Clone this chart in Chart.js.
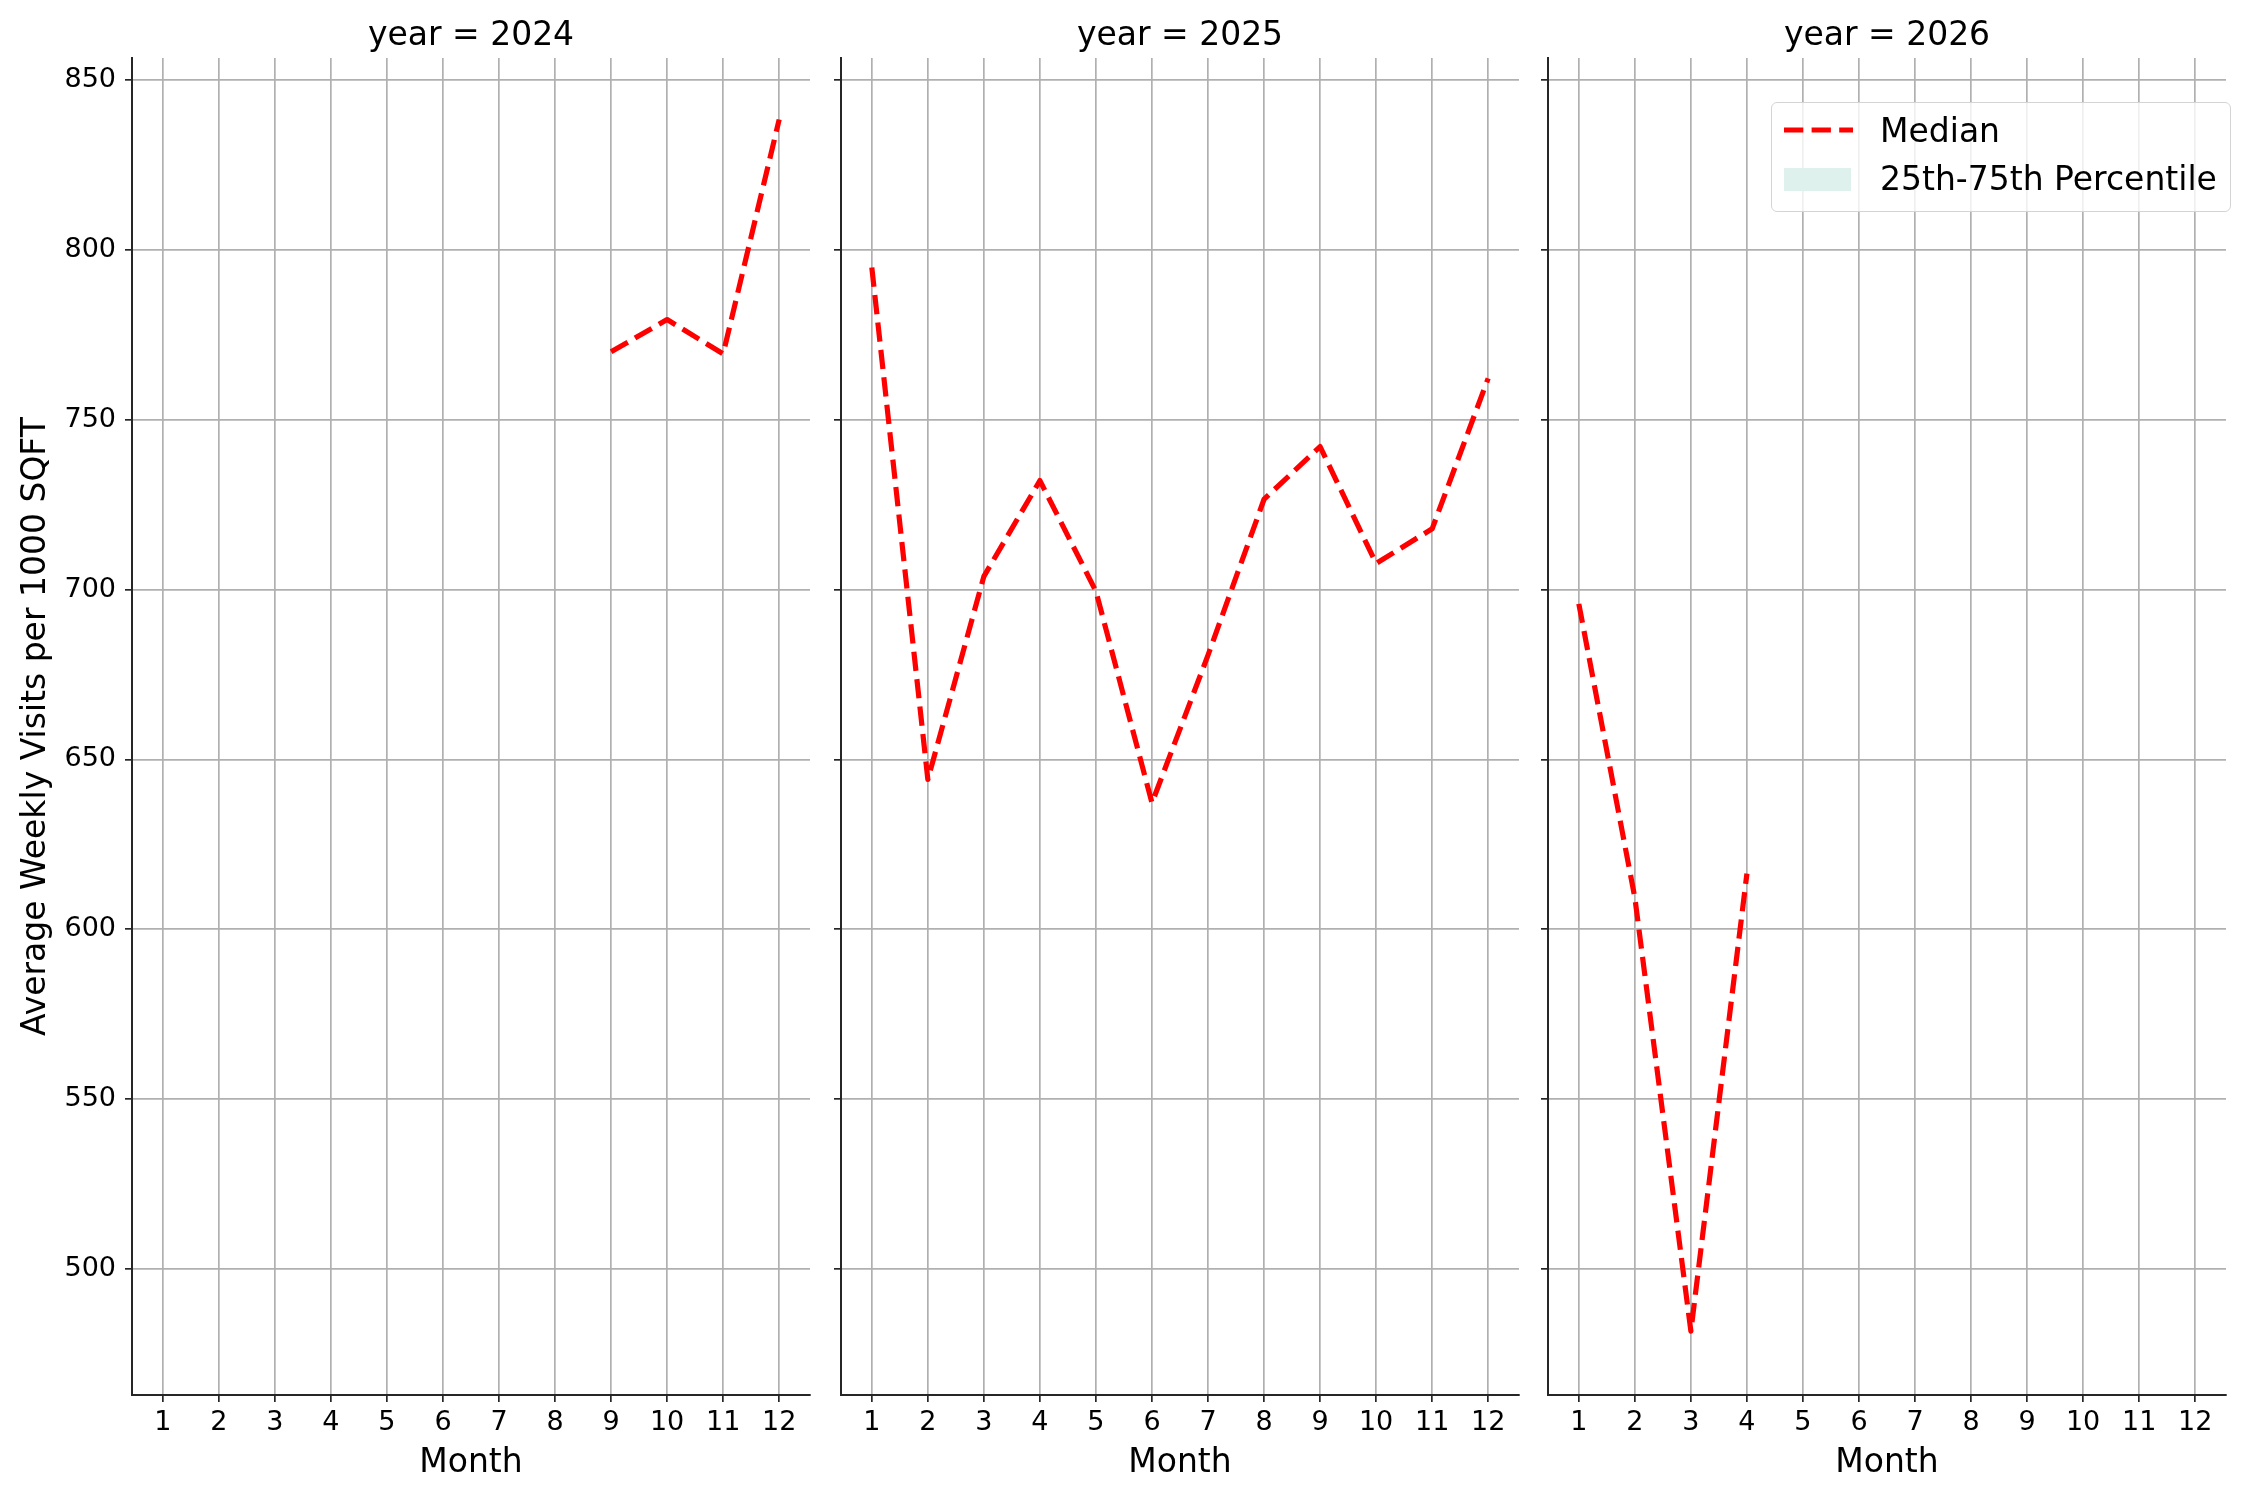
<!DOCTYPE html>
<html>
<head>
<meta charset="utf-8">
<script src="https://cdn.jsdelivr.net/npm/chart.js@4.4.0/dist/chart.umd.min.js"></script>
<style>
    html, body { margin: 0; padding: 0; background: #fff; }
    #page { position: relative; width: 2250px; height: 1500px; overflow: hidden; font-family: 'DejaVu Sans', sans-serif; }
    #page canvas { position: absolute; top: 0; }
    .legend-box {
        position: absolute; left: 1771px; top: 102px; width: 458px; height: 108px;
        border: 1.7px solid #d4d4d4; border-radius: 6px; background: rgba(255, 255, 255, 0.8);
    }
    .legend-text { position: absolute; left: 1880px; font-size: 33px; line-height: 40px; color: #000; white-space: nowrap; }
    .legend-svg { position: absolute; left: 0; top: 0; }
</style>
</head>
<body>
<div id="page">
    <canvas id="panel2024"></canvas>
    <canvas id="panel2025"></canvas>
    <canvas id="panel2026"></canvas>
    <div class="legend-box"></div>
    <svg class="legend-svg" width="2250" height="260">
        <line x1="1784" y1="130" x2="1853" y2="130" stroke="#ff0000" stroke-width="5.2" stroke-dasharray="19.3 8.3"></line>
        <rect x="1784" y="168" width="67" height="23" fill="rgb(223, 241, 237)"></rect>
    </svg>
    <div class="legend-text" style="top: 111px;">Median</div>
    <div class="legend-text" style="top: 159px;">25th-75th Percentile</div>
</div>

<script>
// --- data ---
const YEARS = [2024, 2025, 2026];
const MONTH_TICKS = [1, 2, 3, 4, 5, 6, 7, 8, 9, 10, 11, 12];
const Y_TICKS = [500, 550, 600, 650, 700, 750, 800, 850];

const months2024 = [9, 10, 11, 12];
const median2024 = [770.0, 779.5, 769.4, 838.4];

const months2025 = [1, 2, 3, 4, 5, 6, 7, 8, 9, 10, 11, 12];
const median2025 = [794.8, 644.1, 703.9, 732.1, 699.5, 637.2, 680.7, 726.6, 742.1, 707.7, 717.9, 762.2];

const months2026 = [1, 2, 3, 4];
const median2026 = [695.8, 609.3, 481.7, 616.4];

const X_MIN = 0.45, X_MAX = 12.55;
const Y_MIN = 462.9, Y_MAX = 856.5;

// --- layout ---
const PLOT_LEFT = [132, 841, 1548];
const PLOT_W = 678;
const AXIS_W = [132, 20, 20];
const PAD_RIGHT = 12;
const CANVAS_H = 1500;
const X_AXIS_H = 105;

const FONT = 'DejaVu Sans';
const GRID = '#b0b0b0';
const SPINE = '#262626';

Chart.defaults.font.family = FONT;
Chart.defaults.color = '#000';

/**
 * Build {x, y} points from month / value arrays
 */
function toPoints(months, values) {
    return months.map((m, i) => ({ x: m, y: values[i] }));
}

/**
 * Creates one facet panel
 */
function createPanel(index, year, months, values) {
    const canvas = document.getElementById('panel' + year);
    const yW = AXIS_W[index];
    canvas.width = yW + PLOT_W + PAD_RIGHT;
    canvas.height = CANVAS_H;
    canvas.style.left = (PLOT_LEFT[index] - yW) + 'px';

    const first = index === 0;

    return new Chart(canvas, {
        type: 'line',
        data: {
            datasets: [{
                label: 'Median',
                data: toPoints(months, values),
                borderColor: '#ff0000',
                borderWidth: 5.2,
                borderDash: [19.3, 8.3],
                borderCapStyle: 'butt',
                borderJoinStyle: 'round',
                pointRadius: 0,
                tension: 0,
                fill: false
            }]
        },
        options: {
            responsive: false,
            animation: false,
            devicePixelRatio: 1,
            layout: { padding: { left: 0, top: 0, right: PAD_RIGHT, bottom: 0 }, autoPadding: false },
            plugins: {
                legend: { display: false },
                tooltip: { enabled: false },
                title: {
                    display: true,
                    text: 'year = ' + year,
                    fullSize: false,
                    font: { size: 33, weight: 'normal', lineHeight: 1.0 },
                    padding: { top: 19.5, bottom: 5.5 },
                    color: '#000'
                }
            },
            scales: {
                x: {
                    type: 'linear',
                    min: X_MIN,
                    max: X_MAX,
                    afterBuildTicks: (scale) => {
                        scale.ticks = MONTH_TICKS.map(v => ({ value: v }));
                    },
                    afterFit: (scale) => { scale.height = X_AXIS_H; },
                    ticks: {
                        font: { size: 27 },
                        padding: 5,
                        maxRotation: 0,
                        autoSkip: false,
                        callback: (v) => String(v)
                    },
                    grid: {
                        color: GRID,
                        lineWidth: 1.7,
                        drawTicks: true,
                        tickLength: 7,
                        tickColor: SPINE,
                        tickWidth: 1.7
                    },
                    border: { display: true, color: SPINE, width: 2 },
                    title: {
                        display: true,
                        text: 'Month',
                        font: { size: 33 },
                        padding: { top: 0, bottom: 16.7 },
                        color: '#000'
                    }
                },
                y: {
                    type: 'linear',
                    min: Y_MIN,
                    max: Y_MAX,
                    afterBuildTicks: (scale) => {
                        scale.ticks = Y_TICKS.map(v => ({ value: v }));
                    },
                    afterFit: (scale) => { scale.width = yW; },
                    ticks: {
                        display: first,
                        font: { size: 27 },
                        padding: 9,
                        callback: (v) => String(v)
                    },
                    grid: {
                        color: GRID,
                        lineWidth: 1.7,
                        drawTicks: true,
                        tickLength: 7,
                        tickColor: SPINE,
                        tickWidth: 1.7
                    },
                    border: { display: true, color: SPINE, width: 2 },
                    title: {
                        display: first,
                        text: 'Average Weekly Visits per 1000 SQFT',
                        font: { size: 33 },
                        padding: { top: 17, bottom: 0 },
                        color: '#000'
                    }
                }
            }
        }
    });
}

createPanel(0, YEARS[0], months2024, median2024);
createPanel(1, YEARS[1], months2025, median2025);
createPanel(2, YEARS[2], months2026, median2026);
</script>
</body>
</html>
